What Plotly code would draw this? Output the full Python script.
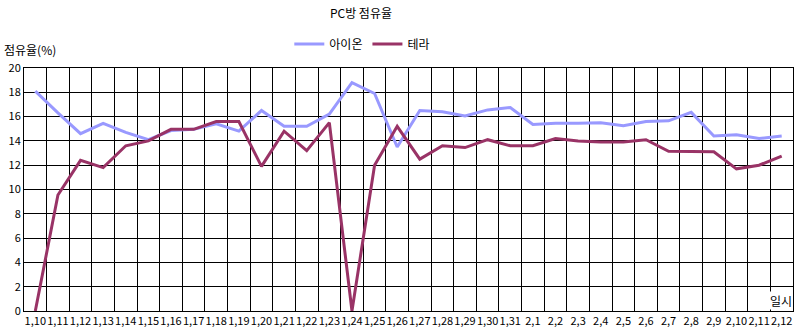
import plotly.graph_objects as go

dates = ["1,10","1,11","1,12","1,13","1,14","1,15","1,16","1,17","1,18","1,19",
         "1,20","1,21","1,22","1,23","1,24","1,25","1,26","1,27","1,28","1,29",
         "1,30","1,31","2,1","2,2","2,3","2,4","2,5","2,6","2,7","2,8",
         "2,9","2,10","2,11","2,12"]
aion = [18.1, 16.3, 14.6, 15.45, 14.7, 14.1, 14.85, 14.95, 15.4, 14.8,
        16.5, 15.2, 15.2, 16.2, 18.8, 17.9, 13.5, 16.5, 16.4, 16.05,
        16.55, 16.75, 15.35, 15.45, 15.45, 15.5, 15.25, 15.6, 15.65, 16.35,
        14.4, 14.5, 14.2, 14.4]
tera = [0, 9.55, 12.4, 11.8, 13.6, 14.0, 14.95, 14.95, 15.6, 15.6,
        11.9, 14.8, 13.2, 15.5, 0, 12.0, 15.2, 12.5, 13.6, 13.45,
        14.1, 13.6, 13.6, 14.2, 14.0, 13.9, 13.9, 14.1, 13.15, 13.15,
        13.1, 11.7, 12.0, 12.75]

FONT = "Noto Sans CJK KR"

fig = go.Figure()
fig.add_trace(go.Scatter(x=dates, y=aion, mode="lines", name="아이온",
                         line=dict(color="#9999FF", width=3)))
fig.add_trace(go.Scatter(x=dates, y=tera, mode="lines", name="테라",
                         line=dict(color="#993366", width=3)))

fig.update_layout(
    width=795, height=332,
    margin=dict(l=24, r=2, t=68, b=21),
    paper_bgcolor="white", plot_bgcolor="white",
    font=dict(family=FONT, size=11, color="black"),
    title=dict(text="PC방 점유율", x=0.454, xanchor="center", xref="container",
               y=1 - 14/332, yanchor="middle", yref="container",
               font=dict(family=FONT, size=12, color="black")),
    showlegend=True,
    legend=dict(orientation="h", x=0.345, xanchor="left", y=1 + 24/243, yanchor="middle",
                font=dict(family=FONT, size=12), bgcolor="rgba(0,0,0,0)",
                itemwidth=30, tracegroupgap=0),
    xaxis=dict(type="category", tickson="boundaries", showgrid=True,
               gridcolor="black", gridwidth=1, range=[-0.5, 33.5],
               showline=True, linecolor="black", linewidth=1, mirror=True,
               ticks="", tickangle=0, tickfont=dict(size=11), zeroline=False),
    yaxis=dict(range=[0, 20], dtick=2, showgrid=True, gridcolor="black", gridwidth=1,
               showline=True, linecolor="black", linewidth=1, mirror=True,
               ticks="", tickfont=dict(size=11), zeroline=False),
    annotations=[
        dict(text="점유율(%)", xref="paper", yref="paper", x=-22/769, y=1 + 19/243,
             xanchor="left", yanchor="middle", showarrow=False,
             font=dict(family=FONT, size=12)),
        dict(text="일시", xref="paper", yref="paper", x=1, y=0.005,
             xanchor="right", yanchor="bottom", showarrow=False, bgcolor="white",
             borderpad=0, font=dict(family=FONT, size=12)),
    ],
)

fig.write_html("out.html")
